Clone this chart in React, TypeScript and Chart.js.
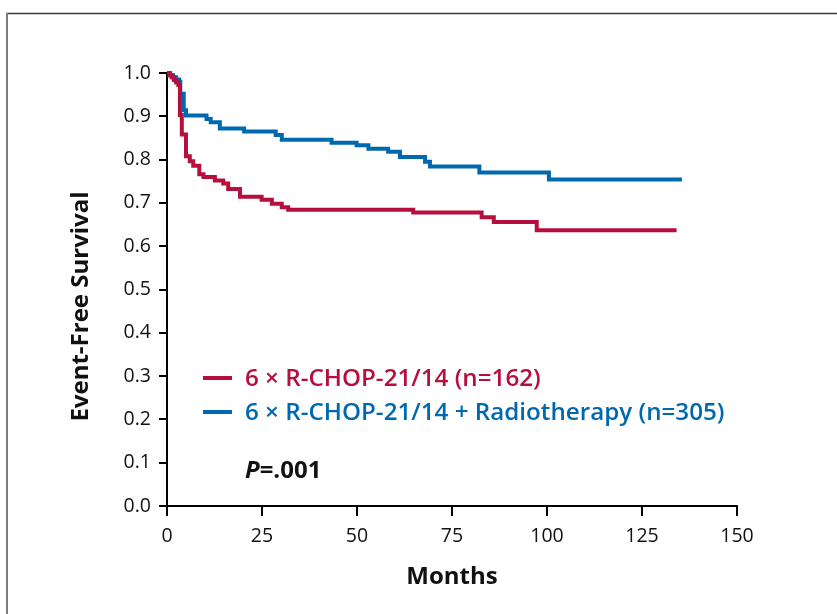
import React, { useEffect, useRef } from "react";
import { Chart, registerables } from "chart.js";

Chart.register(...registerables);

// Kaplan–Meier estimates: month of each step, survival after it
const rchopMonths = [0, 0.6, 1.2, 1.8, 2.4, 3.0, 3.4, 3.9, 5.0, 6.0, 6.9, 8.5, 9.6, 12.6, 14.8, 16.1, 19.2, 24.9, 27.6, 30.2, 31.9, 64.8, 82.8, 86.0, 97.3, 134.1];
const rchopSurvival = [1.0, 0.995, 0.99, 0.984, 0.978, 0.972, 0.903, 0.858, 0.808, 0.796, 0.786, 0.766, 0.76, 0.752, 0.745, 0.732, 0.714, 0.707, 0.698, 0.69, 0.684, 0.678, 0.667, 0.656, 0.637, 0.637];

const rchopRtMonths = [0, 0.8, 1.6, 2.4, 3.2, 3.5, 4.4, 5.0, 10.4, 11.5, 13.9, 20.3, 28.6, 30.2, 43.3, 49.9, 53.0, 58.2, 61.3, 67.9, 69.2, 82.2, 100.5, 135.5];
const rchopRtSurvival = [1.0, 0.995, 0.99, 0.985, 0.98, 0.952, 0.914, 0.902, 0.894, 0.886, 0.872, 0.865, 0.857, 0.846, 0.839, 0.833, 0.825, 0.818, 0.806, 0.795, 0.784, 0.77, 0.754, 0.754];

const seriesLabels = ["6 × R-CHOP-21/14 (n=162)", "6 × R-CHOP-21/14 + Radiotherapy (n=305)"];
const seriesColors = ["#b70f3d", "#0068ae"];

const xTitle = "Months";
const yTitle = "Event-Free Survival";
const pLetter = "P";
const pRest = "=.001";

const xMin = 0;
const xMax = 150;
const xStep = 25;
const yMin = 0;
const yMax = 1;
const yStep = 0.1;

const FONT = '"Open Sans", "Noto Sans", sans-serif';

const toPoints = (xs: number[], ys: number[]) => xs.map((x, i) => ({ x, y: ys[i] }));

const overlayPlugin = {
  id: "overlay",
  beforeDraw(chart: any) {
    const ctx = chart.ctx;
    ctx.save();
    ctx.fillStyle = "#ffffff";
    ctx.fillRect(0, 0, chart.width, chart.height);
    ctx.lineCap = "butt";
    ctx.strokeStyle = "#3a3a3a";
    ctx.lineWidth = 1.5;
    ctx.beginPath();
    ctx.moveTo(6, 13.5);
    ctx.lineTo(chart.width, 13.5);
    ctx.stroke();
    ctx.strokeStyle = "#7d7d7d";
    ctx.lineWidth = 2;
    ctx.beginPath();
    ctx.moveTo(7, 13);
    ctx.lineTo(7, chart.height);
    ctx.stroke();
    ctx.restore();
  },
  afterDraw(chart: any) {
    const ctx = chart.ctx;
    const area = chart.chartArea;
    ctx.save();
    // legend
    const legendX = area.left + 36;
    const legendYs = [area.top + 305, area.top + 339];
    seriesLabels.forEach((label, i) => {
      const y = legendYs[i];
      ctx.strokeStyle = seriesColors[i];
      ctx.lineWidth = 4;
      ctx.beginPath();
      ctx.moveTo(legendX, y);
      ctx.lineTo(legendX + 29, y);
      ctx.stroke();
      ctx.fillStyle = seriesColors[i];
      ctx.font = `600 24.2px ${FONT}`;
      ctx.textBaseline = "middle";
      ctx.textAlign = "left";
      ctx.fillText(label, legendX + 42, y + 1);
    });
    // p value
    const pY = area.top + 398;
    ctx.fillStyle = "#111111";
    ctx.textBaseline = "middle";
    ctx.font = `italic 700 24px ${FONT}`;
    ctx.fillText(pLetter, legendX + 42, pY);
    const pw = ctx.measureText(pLetter).width;
    ctx.font = `700 24px ${FONT}`;
    ctx.fillText(pRest, legendX + 42 + pw, pY);
    // axis titles
    ctx.font = `700 24px ${FONT}`;
    ctx.textAlign = "center";
    ctx.fillText(xTitle, (area.left + area.right) / 2, area.bottom + 71);
    ctx.translate(area.left - 86, (area.top + area.bottom) / 2 + 17);
    ctx.rotate(-Math.PI / 2);
    ctx.fillText(yTitle, 0, 0);
    ctx.restore();
  },
};

function KMChart() {
  const ref = useRef<HTMLCanvasElement | null>(null);
  useEffect(() => {
    if (!ref.current) return;
    const chart = new Chart(ref.current, {
      type: "line",
      data: {
        datasets: [
          {
            label: seriesLabels[0],
            data: toPoints(rchopMonths, rchopSurvival),
            borderColor: seriesColors[0],
            borderWidth: 4,
            pointRadius: 0,
            stepped: "before",
            fill: false,
            clip: false,
          },
          {
            label: seriesLabels[1],
            data: toPoints(rchopRtMonths, rchopRtSurvival),
            borderColor: seriesColors[1],
            borderWidth: 4,
            pointRadius: 0,
            stepped: "before",
            fill: false,
            clip: false,
          },
        ],
      },
      options: {
        responsive: false,
        animation: false,
        layout: { padding: { left: 67, right: 100, top: 73, bottom: 28 } },
        plugins: { legend: { display: false }, tooltip: { enabled: false }, title: { display: false } },
        scales: {
          x: {
            type: "linear",
            min: xMin,
            max: xMax,
            afterFit: (s: any) => { s.height = 80; },
            ticks: {
              stepSize: xStep,
              color: "#111111",
              font: { family: FONT, size: 19.5 },
              padding: 9,
              maxRotation: 0,
            },
            grid: { drawOnChartArea: false, drawTicks: true, tickLength: 10, color: "#000000", lineWidth: 2 },
            border: { display: true, color: "#000000", width: 2 },
          },
          y: {
            type: "linear",
            min: yMin,
            max: yMax,
            afterFit: (s: any) => { s.width = 100; },
            ticks: {
              stepSize: yStep,
              color: "#111111",
              font: { family: FONT, size: 19.5 },
              padding: 8,
              callback: (v: any) => Number(v).toFixed(1),
            },
            grid: { drawOnChartArea: false, drawTicks: true, tickLength: 8, color: "#000000", lineWidth: 2 },
            border: { display: true, color: "#000000", width: 2 },
          },
        },
      },
      plugins: [overlayPlugin],
    });
    return () => chart.destroy();
  }, []);
  return <canvas ref={ref} width={837} height={614} style={{ display: "block", width: 837, height: 614 }} />;
}

export default function App() {
  return (
    <div style={{ position: "absolute", left: 0, top: 0, width: 837, height: 614, overflow: "hidden", background: "#fff" }}>
      <KMChart />
    </div>
  );
}
